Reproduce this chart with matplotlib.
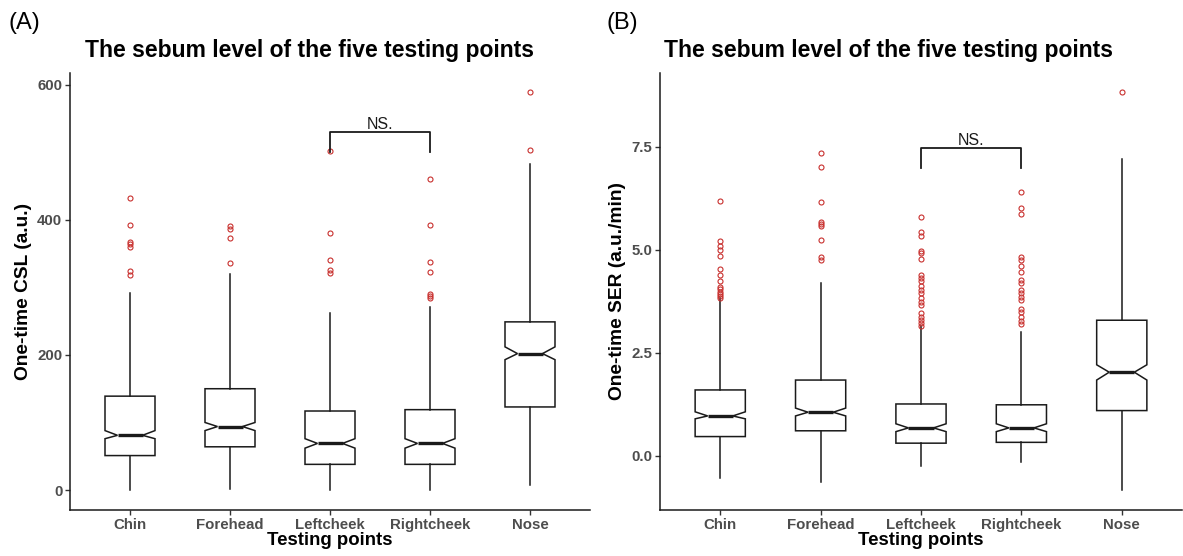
import matplotlib
matplotlib.use("Agg")
import matplotlib.pyplot as plt

plt.rcParams["font.family"] = ["Liberation Sans", "DejaVu Sans"]

points = ["Chin", "Forehead", "Leftcheek", "Rightcheek", "Nose"]
title = "The sebum level of the five testing points"

# Panel A: one-time CSL (a.u.), summary
csl_q1 = [51, 64, 38, 38, 123]
csl_med = [81, 94, 69, 69, 202]
csl_q3 = [139, 150, 117, 119, 249]
csl_cilo = [76, 88, 62, 62, 193]
csl_cihi = [88, 100, 76, 76, 212]
csl_wlo = [0, 2, 0, 0, 7]
csl_whi = [292, 320, 262, 271, 483]
csl_fliers = [
    [433, 392, 368, 364, 360, 325, 318],
    [391, 387, 373, 336],
    [502, 381, 341, 326, 322],
    [461, 392, 338, 323, 291, 288, 285],
    [590, 504],
]

# Panel B: one-time SER (a.u./min)
ser_q1 = [0.47, 0.61, 0.31, 0.33, 1.10]
ser_med = [0.97, 1.06, 0.68, 0.68, 2.03]
ser_q3 = [1.60, 1.84, 1.26, 1.24, 3.29]
ser_cilo = [0.90, 0.97, 0.59, 0.59, 1.84]
ser_cihi = [1.07, 1.16, 0.78, 0.78, 2.21]
ser_wlo = [-0.54, -0.62, -0.24, -0.14, -0.82]
ser_whi = [3.82, 4.20, 3.14, 3.00, 7.20]
ser_fliers = [
    [6.18, 5.21, 5.10, 5.00, 4.85, 4.53, 4.39, 4.25, 4.10, 4.04, 3.98, 3.93, 3.88, 3.84],
    [7.35, 7.00, 6.15, 5.67, 5.62, 5.58, 5.24, 4.82, 4.75],
    [5.80, 5.42, 5.32, 4.98, 4.92, 4.77, 4.39, 4.31, 4.23, 4.11, 4.03, 3.95, 3.82,
     3.74, 3.66, 3.46, 3.38, 3.30, 3.22, 3.16],
    [6.39, 6.02, 5.87, 4.83, 4.75, 4.61, 4.47, 4.27, 4.20, 4.03, 3.95, 3.86, 3.78,
     3.56, 3.48, 3.38, 3.26, 3.19],
    [8.83],
]

# NS. bracket between Leftcheek and Rightcheek: (bottom, top)
csl_bracket = (500, 530)
ser_bracket = (6.99, 7.47)

RED = "#C8302E"
TICK_GRAY = "#4D4D4D"
INK = "#1a1a1a"


def make_stats(q1, med, q3, cilo, cihi, wlo, whi, fliers):
    return [dict(q1=a, med=b, q3=c, cilo=d, cihi=e, whislo=f, whishi=g, fliers=h)
            for a, b, c, d, e, f, g, h in zip(q1, med, q3, cilo, cihi, wlo, whi, fliers)]


def draw(ax, stats, ylim, yticks, yticklabels, ylabel, bracket):
    ax.bxp(stats, positions=range(1, 6), widths=0.5, shownotches=True,
           showcaps=False, patch_artist=True,
           boxprops=dict(facecolor="white", edgecolor=INK, lw=1.1),
           whiskerprops=dict(color=INK, lw=1.1),
           medianprops=dict(color=INK, lw=2.4),
           flierprops=dict(marker="o", markerfacecolor="none", markeredgecolor=RED,
                           markersize=3.6, markeredgewidth=0.8))
    lo, hi = bracket
    ax.plot([3, 3, 4, 4], [lo, hi, hi, lo], color=INK, lw=1.3, zorder=5)
    ax.text(3.5, hi, "NS.", ha="center", va="bottom", fontsize=11.5, color=INK)
    ax.set_xlim(0.4, 5.6)
    ax.set_ylim(*ylim)
    ax.set_yticks(yticks)
    ax.set_yticklabels(yticklabels)
    ax.set_xticks(range(1, 6))
    ax.set_xticklabels(points)
    for lab in ax.get_xticklabels() + ax.get_yticklabels():
        lab.set_fontweight("bold")
        lab.set_color(TICK_GRAY)
        lab.set_fontsize(10.8)
    ax.tick_params(length=3.5, width=1, color="#333333", pad=2)
    for s in ("top", "right"):
        ax.spines[s].set_visible(False)
    for s in ("left", "bottom"):
        ax.spines[s].set_linewidth(1.1)
        ax.spines[s].set_color(INK)
    ax.set_ylabel(ylabel, fontsize=13.8, fontweight="bold", labelpad=4)
    ax.set_xlabel("Testing points", fontsize=13.4, fontweight="bold", labelpad=0)


fig = plt.figure(figsize=(11.83, 5.56), dpi=100)
axA = fig.add_axes([70 / 1183, 1 - 510 / 556, 520 / 1183, (510 - 72.7) / 556])
axB = fig.add_axes([660 / 1183, 1 - 510 / 556, 522 / 1183, (510 - 72.7) / 556])

draw(axA, make_stats(csl_q1, csl_med, csl_q3, csl_cilo, csl_cihi, csl_wlo, csl_whi, csl_fliers),
     (-29.6, 618), [0, 200, 400, 600], ["0", "200", "400", "600"],
     "One-time CSL (a.u.)", csl_bracket)
draw(axB, make_stats(ser_q1, ser_med, ser_q3, ser_cilo, ser_cihi, ser_wlo, ser_whi, ser_fliers),
     (-1.31, 9.29), [0, 2.5, 5.0, 7.5], ["0.0", "2.5", "5.0", "7.5"],
     "One-time SER (a.u./min)", ser_bracket)

fig.text(310 / 1183, 1 - 51 / 556, title, fontsize=16.5, fontweight="bold",
         ha="center", va="center")
fig.text(888 / 1183, 1 - 51 / 556, title, fontsize=16.5, fontweight="bold",
         ha="center", va="center")
fig.text(8 / 1183, 1 - 23 / 556, "(A)", fontsize=17, va="center", ha="left")
fig.text(607 / 1183, 1 - 23 / 556, "(B)", fontsize=17, va="center", ha="left")

fig.savefig("out.png", dpi=100)
